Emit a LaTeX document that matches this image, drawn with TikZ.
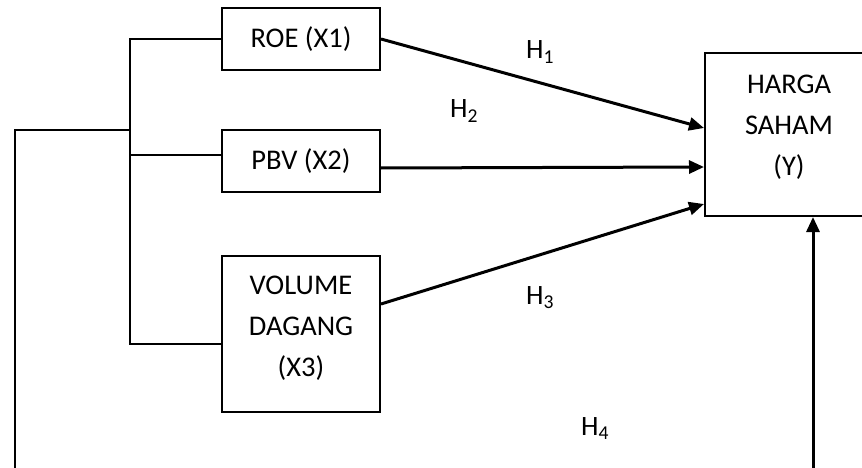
\documentclass[tikz,border=0pt]{standalone}
\usepackage{fontspec}
\setmainfont{Carlito}
\usetikzlibrary{arrows.meta,calc}
\begin{document}
\begin{tikzpicture}[x=1pt,y=-1pt,
  box/.style={draw,line width=2pt,minimum width=158pt,inner sep=0pt,align=center,font=\fontsize{28.5}{42}\selectfont},
  txt/.style={font=\fontsize{28.5}{41}\selectfont,align=center,inner sep=0pt},
  lbl/.style={font=\fontsize{28}{34}\selectfont,inner sep=0pt},
  wire/.style={line width=2.4pt},
  arr/.style={line width=3pt,-{Triangle[length=15pt,width=13pt]}}]
\useasboundingbox (0,0) rectangle (862,468);
\clip (0,0) rectangle (862,468);
\fill[white] (0,0) rectangle (862,468);
\node[box,minimum height=62pt] (roe) at (301,39) {ROE (X1)};
\node[box,minimum height=62pt] (pbv) at (301,161) {PBV (X2)};
\node[box,minimum height=156pt] (vol) at (301,334) {};
\node[txt] (volt) at (301,328) {VOLUME\\DAGANG\\(X3)};
\node[box,minimum width=168pt,minimum height=163pt] (hs) at (789,134.5) {};
\node[txt] (hst) at (789,127) {HARGA\\SAHAM\\(Y)};
% bus
\coordinate (bt) at (130,39);
\coordinate (bb) at (130,344);
\coordinate (bp) at (130,155);
\coordinate (bl) at (130,130);
\coordinate (lc) at (15,130);
\coordinate (ld) at (15,468);
\draw[wire] (roe.west) -- (bt) -- (bb) -- (bb -| vol.west);
\draw[wire] (bp) -- (bp -| pbv.west);
\draw[wire] (bl) -- (lc) -- (ld);
% arrows
\draw[arr] (roe.east) -- ($(hs.north west)+(0,76)$);
\draw[arr] ($(pbv.east)+(0,7)$) -- ($(hs.north west)+(0,115)$);
\draw[arr] ($(vol.east)+(0,-30)$) -- ($(hs.north west)+(0,152)$);
\coordinate (bo) at (813,468);
\draw[arr] (bo) -- (bo |- hs.south);
% labels
\node[lbl] (h1) at (540,52) {H\textsubscript{1}};
\node[lbl] (h2) at (464,111) {H\textsubscript{2}};
\node[lbl] (h3) at (540,298) {H\textsubscript{3}};
\node[lbl] (h4) at (595,429) {H\textsubscript{4}};
\end{tikzpicture}
\end{document}
